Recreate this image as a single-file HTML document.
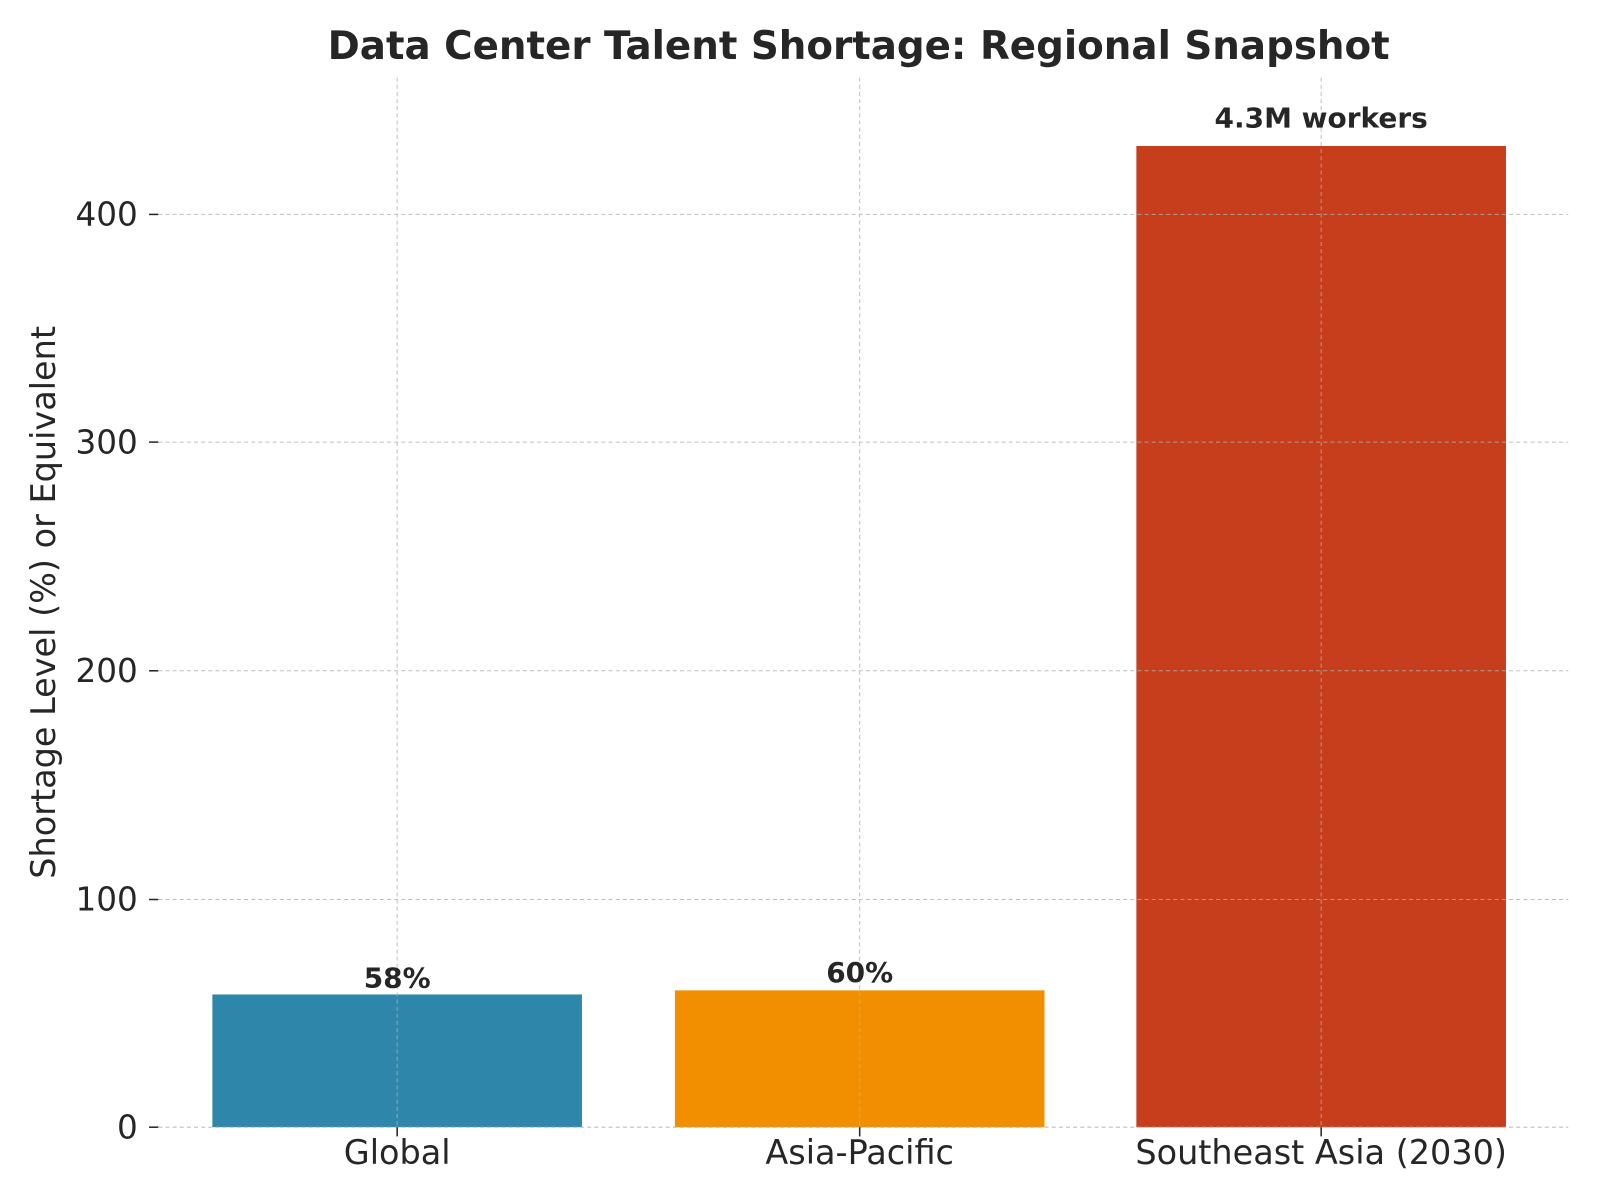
<!DOCTYPE html>
<html><head><meta charset="utf-8"><style>
html,body{margin:0;padding:0;background:#fff;}
svg{display:block;}
text{font-family:"DejaVu Sans","Liberation Sans",sans-serif;fill:#262626;}
</style></head><body>
<svg width="1600" height="1200" viewBox="0 0 1600 1200" xmlns="http://www.w3.org/2000/svg">
<rect width="1600" height="1200" fill="#fff"/>
<g transform="scale(1.021)">
<rect x="208" y="974" width="362" height="130" fill="#2e86ab"/>
<rect x="661" y="970" width="362" height="134" fill="#f18f01"/>
<rect x="1113" y="143" width="362" height="961" fill="#c73e1d"/>
<g stroke="#b0b0b0" stroke-width="1" stroke-dasharray="4,3" opacity="0.8">
<line x1="155" y1="1104" x2="1536" y2="1104"/>
<line x1="155" y1="881" x2="1536" y2="881"/>
<line x1="155" y1="657" x2="1536" y2="657"/>
<line x1="155" y1="433" x2="1536" y2="433"/>
<line x1="155" y1="210" x2="1536" y2="210"/>
<line x1="389" y1="76" x2="389" y2="1104"/>
<line x1="842" y1="76" x2="842" y2="1104"/>
<line x1="1294" y1="76" x2="1294" y2="1104"/>
</g>
<g stroke="#262626" stroke-width="1.5">
<line x1="146" y1="1104" x2="155" y2="1104"/>
<line x1="146" y1="881" x2="155" y2="881"/>
<line x1="146" y1="657" x2="155" y2="657"/>
<line x1="146" y1="433" x2="155" y2="433"/>
<line x1="146" y1="210" x2="155" y2="210"/>
<line x1="389" y1="1104" x2="389" y2="1113"/>
<line x1="842" y1="1104" x2="842" y2="1113"/>
<line x1="1294" y1="1104" x2="1294" y2="1113"/>
</g>
<g font-size="32" text-anchor="end">
<text x="135" y="1115">0</text>
<text x="135" y="892">100</text>
<text x="135" y="668">200</text>
<text x="135" y="444">300</text>
<text x="135" y="221">400</text>
</g>
<g font-size="32.8" text-anchor="middle">
<text x="389" y="1140">Global</text>
<text x="842" y="1140">Asia-Pacific</text>
<text x="1294" y="1140">Southeast Asia (2030)</text>
</g>
<text transform="translate(54,590) rotate(-90)" font-size="32.8" text-anchor="middle">Shortage Level (%) or Equivalent</text>
<text x="841" y="58" font-size="38" font-weight="bold" text-anchor="middle" fill="#333">Data Center Talent Shortage: Regional Snapshot</text>
<g font-size="27.4" font-weight="bold" text-anchor="middle" fill="#333">
<text x="389" y="967">58%</text>
<text x="842" y="962">60%</text>
<text x="1294" y="125">4.3M workers</text>
</g>
</g>
</svg>
</body></html>
